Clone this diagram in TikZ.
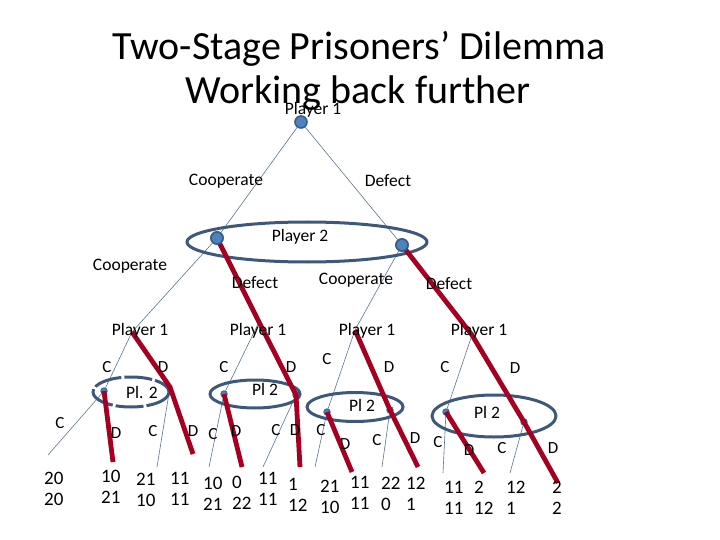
\documentclass[tikz,border=0pt]{standalone}
\usepackage{fontspec}
\setmainfont{Carlito}
\usetikzlibrary{positioning}

\definecolor{dotfill}{RGB}{79,129,189}
\definecolor{dotedge}{RGB}{56,93,138}
\definecolor{setcol}{RGB}{62,88,124}
\definecolor{branchcol}{RGB}{88,116,152}
\definecolor{eqred}{RGB}{165,0,33}

\begin{document}
\begin{tikzpicture}[
    x=1pt, y=-1pt,
    bigdot/.style={circle, fill=dotfill, draw=dotedge, line width=1.6pt, inner sep=0, minimum size=12pt},
    smalldot/.style={circle, fill=dotfill, draw=dotedge, line width=0.8pt, inner sep=0, minimum size=6.5pt},
    branch/.style={draw=branchcol, line width=0.6pt},
    eq/.style={draw=eqred, line width=4.8pt, line join=round},
    infoset/.style={draw=setcol, line width=3pt},
    lbl/.style={font=\fontsize{17.5}{18}\selectfont, inner sep=0},
    move/.style={font=\fontsize{17}{18}\selectfont, inner sep=0},
    pay/.style={font=\fontsize{19}{21}\selectfont, align=left, anchor=north west, inner sep=0},
  ]
  \useasboundingbox (0,0) rectangle (720,540);

  % Title
  \node [font=\fontsize{40}{47}\selectfont, anchor=base, inner sep=0] (title1) at (359,60) {Two-Stage Prisoners’ Dilemma};
  \node [font=\fontsize{40}{47}\selectfont, anchor=base, inner sep=0] (title2) at (358,104) {Working back further};

  % Decision points
  \node [bigdot] (root) at (301,122) {};
  \node [bigdot] (p2c) at (217,238) {};
  \node [bigdot] (p2d) at (402,245) {};
  \coordinate (cc) at (132,332);
  \coordinate (cd) at (259,322);
  \coordinate (dc) at (355,330);
  \coordinate (dd) at (472,335);
  \node [smalldot] (cc1) at (104,391) {};
  \coordinate (cc2) at (170,387);
  \node [smalldot] (cd1) at (224,394) {};
  \node [smalldot] (cd2) at (296,395) {};
  \node [smalldot] (dc1) at (327,412) {};
  \node [smalldot] (dc2) at (390,410) {};
  \node [smalldot] (dd1) at (446,412) {};
  \node [smalldot] (dd2) at (524,422) {};

  % Ends of the last moves
  \foreach \n/\x/\y in {1/48/455, 2/113/462, 3/157/467, 4/193/454,
                        5/209/467, 6/242/467, 7/263/467, 8/300/467,
                        9/315/467, 10/352/472, 11/382/467, 12/418/467,
                        13/443/473, 14/484/473, 15/510/473, 16/558/483}
    \coordinate (e\n) at (\x,\y);

  % All branches
  \foreach \a/\b in {root/p2c, root/p2d, p2c/cc, p2c/cd, p2d/dc, p2d/dd,
                     cc/cc1, cc/cc2, cd/cd1, cd/cd2, dc/dc1, dc/dc2, dd/dd1, dd/dd2,
                     cc1/e1, cc1/e2, cc2/e3, cc2/e4, cd1/e5, cd1/e6, cd2/e7, cd2/e8,
                     dc1/e9, dc1/e10, dc2/e11, dc2/e12, dd1/e13, dd1/e14, dd2/e15, dd2/e16}
    \draw [branch] (\a) -- (\b);

  % Information sets
  \draw [infoset] (307,242) ellipse [x radius=120, y radius=20];
  \draw [infoset, dash pattern=on 28pt off 3pt] (131,392) ellipse [x radius=38, y radius=15];
  \draw [infoset] (255,394) ellipse [x radius=45, y radius=14];
  \draw [infoset] (355,407) ellipse [x radius=48, y radius=14.5];
  \draw [infoset] (494,416) ellipse [x radius=62, y radius=21];

  % Defect everywhere
  \draw [eq] (p2c.center) -- (cd) -- (cd2.center) -- (e8);
  \draw [eq] (p2d.center) -- (dd) -- (dd2.center) -- (e16);
  \draw [eq] (cc) -- (cc2) -- (e4);
  \draw [eq] (dc) -- (dc2.center) -- (e12);
  \foreach \a/\b in {cc1/e2, cd1/e6, dc1/e10, dd1/e14}
    \draw [eq] (\a.center) -- (\b);

  \node [bigdot] at (p2c) {};
  \node [bigdot] at (p2d) {};

  % Labels
  \node [lbl] (pl1) at (313,110) {Player 1};
  \node [lbl] (coop1) at (226,181) {Cooperate};
  \node [lbl] (def1) at (388,181) {Defect};
  \node [lbl] (pl2) at (300,237) {Player 2};
  \node [lbl] (coop2) at (130,266) {Cooperate};
  \node [lbl] (def2) at (255,283) {Defect};
  \node [lbl] (coop3) at (356,280) {Cooperate};
  \node [lbl] (def3) at (449,284) {Defect};
  \foreach \x in {140, 258, 367, 479}
    \node [lbl] (p1at\x) at (\x,331) {Player 1};

  \node [lbl] (set1) at (142,392) {Pl. 2};
  \node [lbl] (set2) at (265,389) {Pl 2};
  \node [lbl] (set3) at (362,405) {Pl 2};
  \node [lbl] (set4) at (487,412) {Pl 2};

  \foreach \t/\x/\y [count=\i] in {C/107/367, D/163/367, C/224/367, D/291/367,
                                   C/327/359, D/389/367, C/445/367, D/515/368,
                                   C/60/423, D/116/433, C/153/431, D/193/431,
                                   C/213/434, D/236/431, C/276/430, D/295/430,
                                   C/321/430, D/345/444, C/377/440, D/415/438,
                                   C/438/442, D/469/450, C/502/448, D/553/448}
    \node [move] (mv\i) at (\x,\y) {\t};

  % Payoffs
  \foreach \u/\v/\x/\y [count=\i] in {20/20/44/472, 10/21/101/470, 21/10/136/473, 11/11/170/472,
                                      10/21/203/477, 0/22/232/476, 11/11/258/472, 1/12/288/478,
                                      21/10/320/480, 11/11/350/476, 22/0/381/477, 12/1/406/477,
                                      11/11/444/481, 2/12/474/481, 12/1/506/481, 2/2/552/481}
    \node [pay] (pay\i) at (\x,\y) {\u\\\v};
\end{tikzpicture}
\end{document}
